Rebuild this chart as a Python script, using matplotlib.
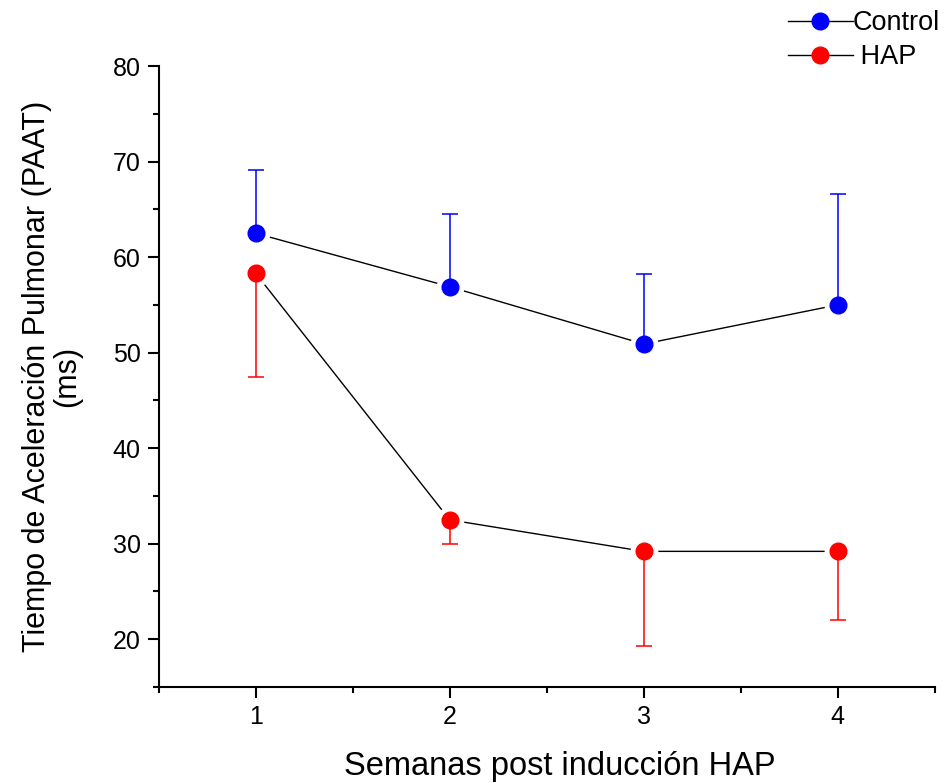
import matplotlib.pyplot as plt
import numpy as np
from matplotlib.ticker import MultipleLocator

plt.rcParams['font.family'] = ['Liberation Sans', 'DejaVu Sans']

weeks = [1, 2, 3, 4]
control = [62.5, 56.9, 50.9, 55.0]
control_err = [6.6, 7.6, 7.3, 11.6]
hap = [58.3, 32.5, 29.2, 29.2]
hap_err = [10.9, 2.5, 9.9, 7.2]

fig = plt.figure(figsize=(9.45, 7.83), dpi=100)
ax = fig.add_axes([0.168, 0.1226, 0.821, 0.793])

series = [
    (control, control_err, 'blue', 'Control', 'up'),
    (hap, hap_err, 'red', ' HAP', 'down'),
]

handles = []
for vals, err, col, lab, side in series:
    # connecting line, with white halo markers to leave a gap around points
    ax.plot(weeks, vals, color='black', lw=1.0, zorder=1)
    ax.plot(weeks, vals, 'o', ms=19, color='white', zorder=2)
    if side == 'up':
        yerr = [np.zeros(len(err)), err]
    else:
        yerr = [err, np.zeros(len(err))]
    ax.errorbar(weeks, vals, yerr=yerr, fmt='none', ecolor=col, elinewidth=1.1,
                capsize=6, capthick=1.1, zorder=3)
    ax.plot(weeks, vals, 'o', ms=12, color=col, zorder=4)
    h, = ax.plot([], [], '-o', color='black', lw=1.0, ms=12, mfc=col, mec=col, label=lab)
    handles.append(h)

ax.set_xlim(0.5, 4.5)
ax.set_ylim(15, 80)
ax.xaxis.set_major_locator(MultipleLocator(1))
ax.xaxis.set_minor_locator(MultipleLocator(0.5))
ax.yaxis.set_major_locator(MultipleLocator(10))
ax.yaxis.set_minor_locator(MultipleLocator(5))
ax.set_yticks([20, 30, 40, 50, 60, 70, 80])

for s in ['top', 'right']:
    ax.spines[s].set_visible(False)
for s in ['left', 'bottom']:
    ax.spines[s].set_linewidth(1.5)

ax.tick_params(which='major', direction='out', length=8, width=1.5, labelsize=18, pad=5)
ax.tick_params(which='minor', direction='out', length=4, width=1.5)

ax.set_xlabel('Semanas post inducción HAP', fontsize=23.5, labelpad=16)
ax.xaxis.label.set_x(0.517)
ax.set_ylabel('Tiempo de Aceleración Pulmonar (PAAT)\n(ms)', fontsize=22, labelpad=22,
              linespacing=1.0)

leg = fig.legend(handles=handles, loc='upper right', bbox_to_anchor=(1.012, 1.008),
                 frameon=False, fontsize=19.5, handlelength=2.4, handletextpad=0.0,
                 labelspacing=0.3, borderaxespad=0.2)

fig.savefig('out.png', dpi=100)
